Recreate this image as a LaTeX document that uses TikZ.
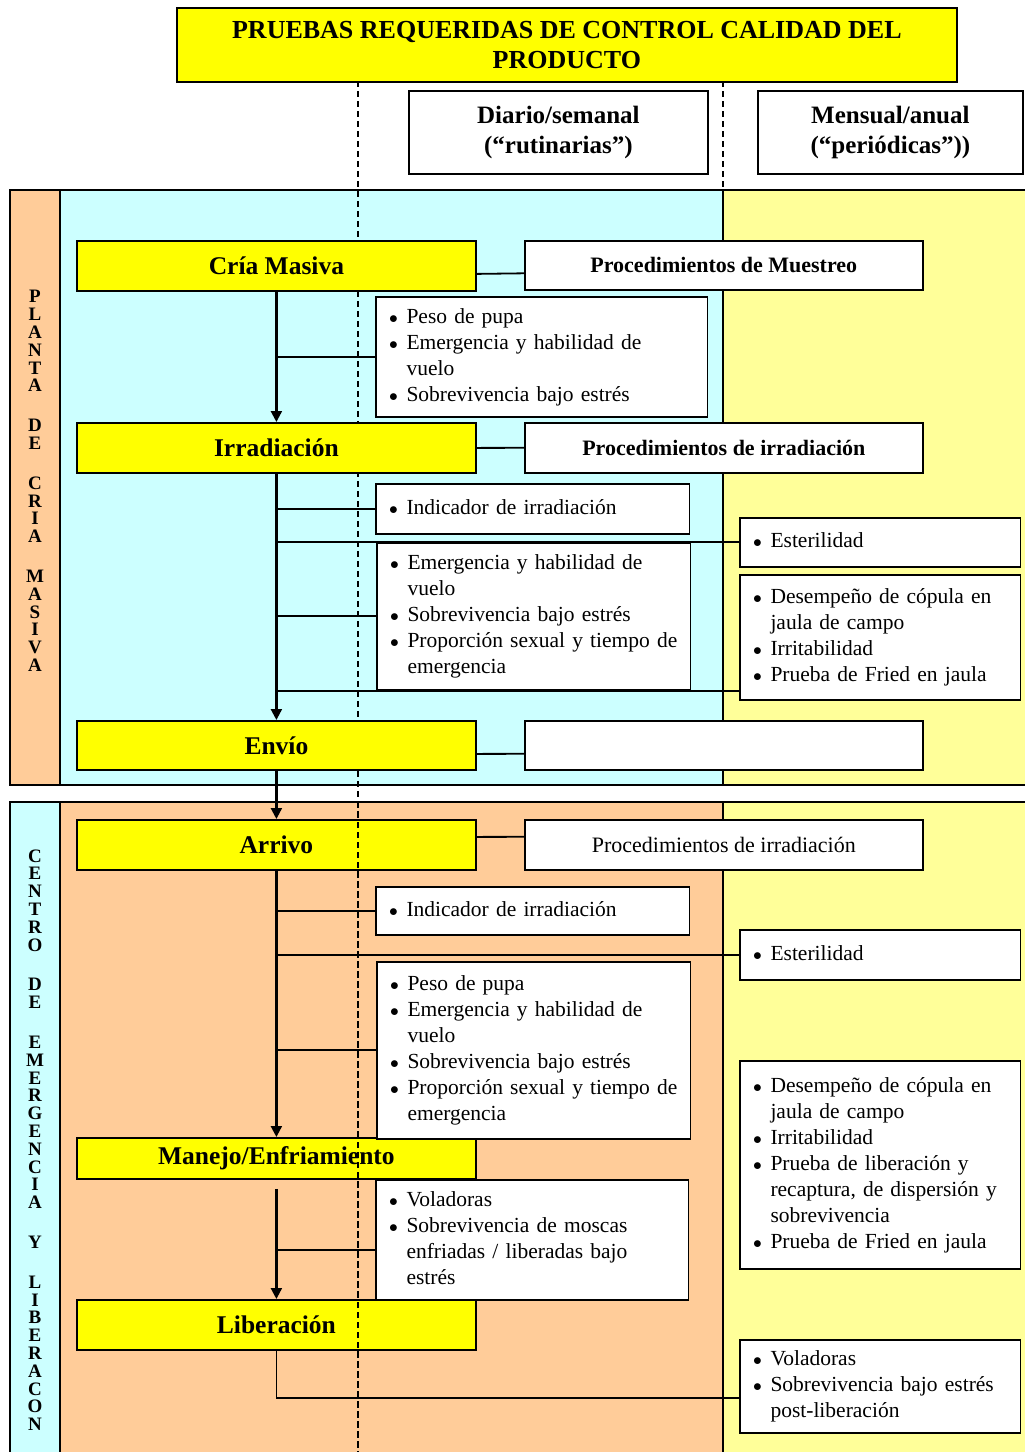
\documentclass[tikz,border=0pt]{standalone}
\usepackage{fontspec}
\setmainfont{Liberation Serif}
\usetikzlibrary{arrows.meta}
\definecolor{yboxc}{HTML}{FFFF00}
\definecolor{cyanbg}{HTML}{CCFFFF}
\definecolor{peach}{HTML}{FFCC99}
\definecolor{lyel}{HTML}{FFFF99}
\newcommand{\bul}{\scalebox{0.85}{$\bullet$}}
\newcommand{\blist}[1]{\begin{tabular}{@{}l@{\hspace{8.5pt}}l@{}}#1\end{tabular}}
\begin{document}
\begin{tikzpicture}[x=1pt,y=-1pt,
  pborder/.style={line width=1.6pt},
  ybox/.style={draw, line width=1.8pt, fill=yboxc, anchor=north west, inner sep=0pt, font=\fontsize{25.5}{30}\selectfont\bfseries},
  pbox/.style={draw, line width=1.6pt, fill=white, anchor=north west, inner sep=0pt, font=\fontsize{22}{26}\selectfont\bfseries},
  hbox/.style={draw, line width=1.8pt, fill=white, anchor=north west, inner sep=0pt, align=center, font=\fontsize{25}{30}\selectfont\bfseries},
  lbox/.style={draw, line width=1.6pt, fill=white, anchor=north west, inner xsep=13.4pt, inner ysep=0pt, align=left, font=\fontsize{21.5}{26}\selectfont},
  flow/.style={line width=2.2pt, -{Triangle[length=11pt,width=11pt]}},
  branch/.style={line width=1.8pt},
  dashline/.style={line width=1.2pt, dash pattern=on 6pt off 4pt},
  side/.style={align=center, font=\fontsize{19}{17.8}\selectfont\bfseries, inner sep=0pt}
]
\useasboundingbox (0,0) rectangle (1025,1452);
\fill[white] (0,0) rectangle (1025,1452);

% ---- panel 1 ----
\fill[peach] (10,190) rectangle (60,785);
\fill[cyanbg] (60,190) rectangle (723,785);
\fill[lyel] (723,190) rectangle (1027,785);
\draw[pborder] (1027,190) -- (10,190) -- (10,785) -- (1027,785);
\draw[pborder] (60,190) -- (60,785);
\draw[pborder] (723,190) -- (723,785);
% ---- panel 2 ----
\fill[cyanbg] (10,802) rectangle (60,1453);
\fill[peach] (60,802) rectangle (723,1453);
\fill[lyel] (723,802) rectangle (1027,1453);
\draw[pborder] (1027,802) -- (10,802) -- (10,1453);
\draw[pborder] (60,802) -- (60,1453);
\draw[pborder] (723,802) -- (723,1453);

% ---- dashed separators ----
\coordinate (d1top) at (358,81);
\coordinate (d1bot) at (358,1453);
\coordinate (d2top) at (723,81);
\coordinate (d2bot) at (723,190);
\draw[dashline] (d1top) -- (d1bot);
\draw[dashline] (d2top) -- (d2bot);

% ---- title and headers ----
\node[draw, line width=1.8pt, fill=yboxc, anchor=north west, minimum width=780pt, minimum height=74pt, inner sep=0pt, align=center, font=\fontsize{26}{30}\selectfont\bfseries] (title) at (176,7) {PRUEBAS REQUERIDAS DE CONTROL CALIDAD DEL\\PRODUCTO};
\node[hbox, minimum width=299pt, minimum height=83pt] (h1) at (408,90) {Diario/semanal\\(“rutinarias”)};
\node[hbox, minimum width=265pt, minimum height=83pt] (h2) at (757,90) {Mensual/anual\\(“periódicas”))};

% ---- side labels ----
\node[side] (s1) at (35,481) {P\\L\\A\\N\\T\\A\\[22pt]D\\E\\[22pt]C\\R\\I\\A\\[22pt]M\\A\\S\\I\\V\\A};
\node[side] (s2) at (35,1140) {C\\E\\N\\T\\R\\O\\[22pt]D\\E\\[22pt]E\\M\\E\\R\\G\\E\\N\\C\\I\\A\\[22pt]Y\\[22pt]L\\I\\B\\E\\R\\A\\C\\O\\N};

% ---- yellow process boxes ----
\node[ybox, minimum width=399pt, minimum height=50pt] (cm) at (76,240) {Cría Masiva};
\node[ybox, minimum width=399pt, minimum height=50pt] (ir) at (76,422) {Irradiación};
\node[ybox, minimum width=399pt, minimum height=49pt] (en) at (76,720) {Envío};
\node[ybox, minimum width=399pt, minimum height=50pt] (ar) at (76,819) {Arrivo};
\node[ybox, minimum width=399pt, minimum height=41pt] (mj) at (76,1137) {Manejo/Enfriamiento};
\node[ybox, minimum width=399pt, minimum height=50pt] (lib) at (76,1299) {Liberación};

% ---- procedure boxes ----
\node[pbox, minimum width=398pt, minimum height=49pt] (pm) at (524,240) {Procedimientos de Muestreo};
\node[pbox, minimum width=398pt, minimum height=50pt] (pi) at (524,422) {Procedimientos de irradiación};
\node[pbox, minimum width=398pt, minimum height=49pt] (pe) at (524,720) {};
\node[pbox, minimum width=398pt, minimum height=50pt, font=\fontsize{22}{26}\selectfont] (pi2) at (524,819) {Procedimientos de irradiación};

% ---- main flow ----
\draw[flow] (cm.south) -- (ir.north);
\draw[branch] ([yshift=-8pt]cm.east) -- ([yshift=-8pt]pm.west);
\draw[branch] (ir.east) -- (pi.west);
\draw[flow] (ir.south) -- (en.north);
\draw[branch] ([yshift=-8.5pt]en.east) -- ([yshift=-8.5pt]pe.west);
\draw[flow] (en.south) -- (ar.north);
\draw[branch] ([yshift=8pt]ar.east) -- ([yshift=8pt]pi2.west);
\draw[flow] (ar.south) -- (mj.north);
\draw[flow] ([yshift=-9pt]mj.south) -- (lib.north);

% ---- list boxes, middle column ----
\node[lbox, text width=305pt, minimum height=120pt] (a1) at (375,296) {\blist{\bul & Peso de pupa\\ \bul & Emergencia y habilidad de\\ & vuelo\\ \bul & Sobrevivencia bajo estrés}};
\node[lbox, text width=287pt, minimum height=50pt] (a2) at (375,483) {\blist{\bul & Indicador de irradiación}};
\node[lbox, text width=287pt, minimum height=147pt] (a3) at (376,542) {\blist{\bul & Emergencia y habilidad de\\ & vuelo\\ \bul & Sobrevivencia bajo estrés\\ \bul & Proporción sexual y tiempo de\\ & emergencia}};
\node[lbox, text width=287pt, minimum height=48pt] (b1) at (375,886) {\blist{\bul & Indicador de irradiación}};
\node[lbox, text width=287pt, minimum height=177pt] (b2) at (376,961) {\blist{\bul & Peso de pupa\\ \bul & Emergencia y habilidad de\\ & vuelo\\ \bul & Sobrevivencia bajo estrés\\ \bul & Proporción sexual y tiempo de\\ & emergencia}};
\node[lbox, text width=286pt, minimum height=120pt] (b3) at (375,1179) {\blist{\bul & Voladoras\\ \bul & Sobrevivencia de moscas\\ & enfriadas / liberadas bajo\\ & estrés}};

% ---- list boxes, right column ----
\node[lbox, text width=254pt, minimum height=49pt] (e1) at (739,517) {\blist{\bul & Esterilidad}};
\node[lbox, text width=254pt, minimum height=125pt] (dd1) at (739,574) {\blist{\bul & Desempeño de cópula en\\ & jaula de campo\\ \bul & Irritabilidad\\ \bul & Prueba de Fried en jaula}};
\node[lbox, text width=254pt, minimum height=50pt] (e2) at (739,929) {\blist{\bul & Esterilidad}};
\node[lbox, text width=254pt, minimum height=208pt] (dd2) at (739,1060) {\blist{\bul & Desempeño de cópula en\\ & jaula de campo\\ \bul & Irritabilidad\\ \bul & Prueba de liberación y\\ & recaptura, de dispersión y\\ & sobrevivencia\\ \bul & Prueba de Fried en jaula}};
\node[lbox, text width=254pt, minimum height=93pt] (v2) at (739,1339) {\blist{\bul & Voladoras\\ \bul & Sobrevivencia bajo estrés\\ & post-liberación}};

% ---- branch connectors ----
\draw[branch] (a1.west -| cm.south) -- (a1.west);
\draw[branch] (a2.west -| ir.south) -- (a2.west);
\draw[branch] (e1.west -| ir.south) -- (e1.west);
\draw[branch] (a3.west -| ir.south) -- (a3.west);
\draw[branch] (a3.south west -| ir.south) -- (dd1.west |- a3.south west);
\draw[branch] (b1.west -| ar.south) -- (b1.west);
\draw[branch] (e2.west -| ar.south) -- (e2.west);
\draw[branch] (b2.west -| ar.south) -- (b2.west);
\draw[branch] ([yshift=-10pt]b3.west -| mj.south) -- ([yshift=-10pt]b3.west);
\draw[branch] (lib.south) |- ([yshift=-11.5pt]v2.west);

% ---- dashed line over panel 2 boxes ----
\coordinate (d1mid) at (358,802);
\draw[dashline] (d1mid) -- (d1bot);
\end{tikzpicture}
\end{document}
